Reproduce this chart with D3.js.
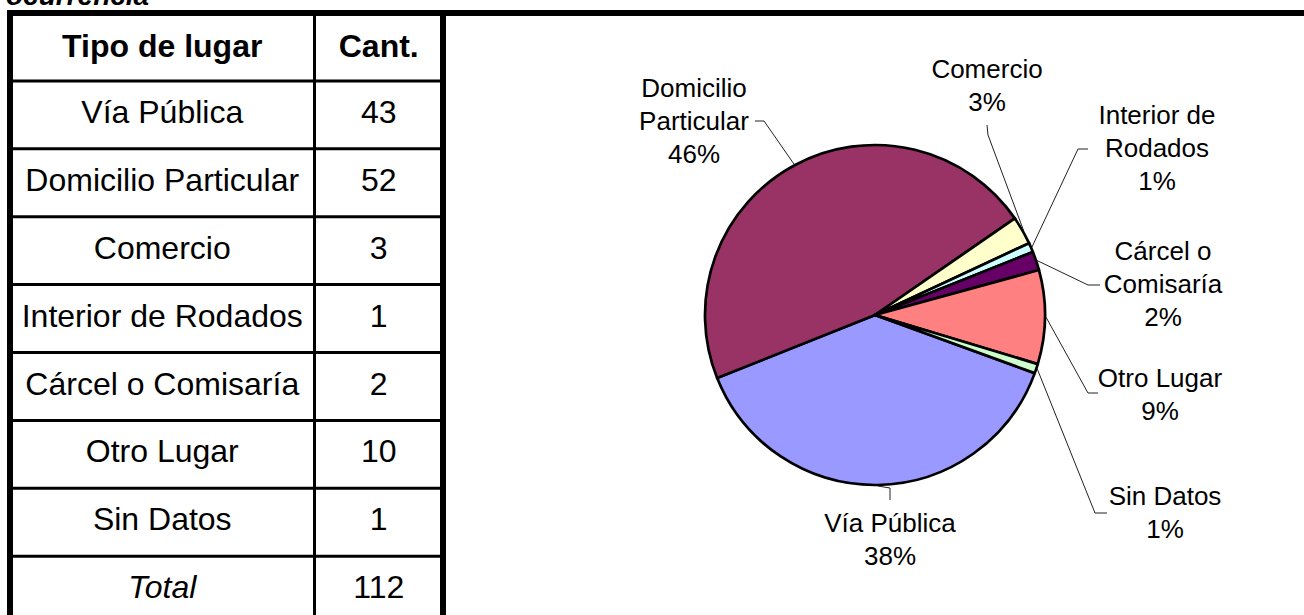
<!DOCTYPE html>
<html>
<head>
<meta charset="utf-8">
<script src="https://cdn.jsdelivr.net/npm/d3@7"></script>
<style>
  body { margin: 0; background: #fff; }
  svg { display: block; font-family: Arial, "Liberation Sans", sans-serif; }
  .grid { stroke: #000; }
  .leader { fill: none; stroke: #222; stroke-width: 1; }
  .slice { stroke: #000; stroke-width: 2.7; stroke-linejoin: round; }
</style>
</head>
<body>
<svg id="chart" width="1304" height="615"></svg>
<script>
// data
const lugares = ["Vía Pública", "Domicilio Particular", "Comercio", "Interior de Rodados", "Cárcel o Comisaría", "Otro Lugar", "Sin Datos"];
const cantidades = [43, 52, 3, 1, 2, 10, 1];
const etiquetas = [["Vía Pública"], ["Domicilio", "Particular"], ["Comercio"], ["Interior de", "Rodados"], ["Cárcel o", "Comisaría"], ["Otro Lugar"], ["Sin Datos"]];
const colores = ["#9999FF", "#993366", "#FFFFCC", "#CCFFFF", "#660066", "#FF8080", "#CCFFCC"];

// label placement (layout only)
const labelPos = [
  { x: 890, y: 532, elbow: [890, 488], anchor: [890, 500] },
  { x: 694, y: 97, elbow: [764, 121], anchor: [755, 121] },
  { x: 987, y: 78, elbow: [988, 135], anchor: [987, 125] },
  { x: 1157, y: 124, elbow: [1078, 149], anchor: [1088, 149] },
  { x: 1163, y: 260, elbow: [1088, 285], anchor: [1100, 285] },
  { x: 1160, y: 387, elbow: [1088, 393], anchor: [1098, 393] },
  { x: 1165, y: 505, elbow: [1095, 513], anchor: [1107, 513] }
];

const svg = d3.select("#chart");
const total = d3.sum(cantidades);

// partial title cut off at the top
svg.append("text")
  .attr("x", 6).attr("y", 5)
  .attr("font-size", 28).attr("font-weight", "bold").attr("font-style", "italic")
  .text("ocurrencia");

// ---------- table ----------
const tLeft = 10, tRight = 443, colDiv = 314.5, tTop = 13, rowH = 67.9;
const rows = [{ name: "Tipo de lugar", val: "Cant.", head: true }]
  .concat(lugares.map((d, i) => ({ name: d, val: cantidades[i] })))
  .concat([{ name: "Total", val: total, total: true }]);

const rowY = d3.scaleLinear().domain([0, 1]).range([tTop, tTop + rowH]);

const table = svg.append("g");

table.selectAll("text.name")
  .data(rows)
  .join("text")
  .attr("class", "name")
  .attr("x", (tLeft + colDiv) / 2)
  .attr("y", (d, i) => rowY(i) + (d.head ? 44 : 42))
  .attr("text-anchor", "middle")
  .attr("font-size", 32)
  .attr("font-weight", d => d.head ? "bold" : "normal")
  .attr("font-style", d => d.total ? "italic" : "normal")
  .text(d => d.name);

table.selectAll("text.val")
  .data(rows)
  .join("text")
  .attr("class", "val")
  .attr("x", (colDiv + tRight) / 2)
  .attr("y", (d, i) => rowY(i) + (d.head ? 44 : 42))
  .attr("text-anchor", "middle")
  .attr("font-size", 32)
  .attr("font-weight", d => d.head ? "bold" : "normal")
  .text(d => d.val);

// inner horizontal lines
table.selectAll("line.h")
  .data(d3.range(1, rows.length))
  .join("line")
  .attr("class", "grid")
  .attr("x1", tLeft).attr("x2", tRight)
  .attr("y1", d => rowY(d)).attr("y2", d => rowY(d))
  .attr("stroke-width", 3);

table.append("line").attr("class", "grid")
  .attr("x1", colDiv).attr("x2", colDiv)
  .attr("y1", tTop).attr("y2", 640)
  .attr("stroke-width", 3);

// outer borders
table.append("line").attr("class", "grid")
  .attr("x1", tLeft).attr("x2", tLeft).attr("y1", tTop - 3).attr("y2", 640)
  .attr("stroke-width", 6);
table.append("line").attr("class", "grid")
  .attr("x1", tRight).attr("x2", tRight).attr("y1", tTop - 3).attr("y2", 640)
  .attr("stroke-width", 6);
table.append("line").attr("class", "grid")
  .attr("x1", tLeft - 3).attr("x2", 1310).attr("y1", tTop).attr("y2", tTop)
  .attr("stroke-width", 6);

// ---------- pie ----------
const cx = 875, cy = 315, radius = 170;
const start = 110 * Math.PI / 180;

const pie = d3.pie().sort(null).startAngle(start).endAngle(start + 2 * Math.PI);
const arc = d3.arc().innerRadius(0).outerRadius(radius);
const arcs = pie(cantidades);

const g = svg.append("g").attr("transform", `translate(${cx},${cy})`);

g.selectAll("path.slice")
  .data(arcs)
  .join("path")
  .attr("class", "slice")
  .attr("fill", (d, i) => colores[i])
  .attr("d", arc);

// leader lines
const edge = d => {
  const a = (d.startAngle + d.endAngle) / 2;
  return [cx + (radius + 1) * Math.sin(a), cy - (radius + 1) * Math.cos(a)];
};

svg.selectAll("path.leader")
  .data(arcs)
  .join("path")
  .attr("class", "leader")
  .attr("d", (d, i) => d3.line()([edge(d), labelPos[i].elbow, labelPos[i].anchor]));

// labels
const lineH = 33;
const lbl = svg.selectAll("text.lbl")
  .data(arcs)
  .join("text")
  .attr("class", "lbl")
  .attr("text-anchor", "middle")
  .attr("font-size", 26)
  .attr("x", (d, i) => labelPos[i].x)
  .attr("y", (d, i) => labelPos[i].y);

lbl.each(function (d, i) {
  const lines = etiquetas[i].concat([Math.round(d.value / total * 100) + "%"]);
  d3.select(this).selectAll("tspan")
    .data(lines)
    .join("tspan")
    .attr("x", labelPos[i].x)
    .attr("dy", (t, j) => j === 0 ? 0 : lineH)
    .text(t => t);
});
</script>
</body>
</html>
